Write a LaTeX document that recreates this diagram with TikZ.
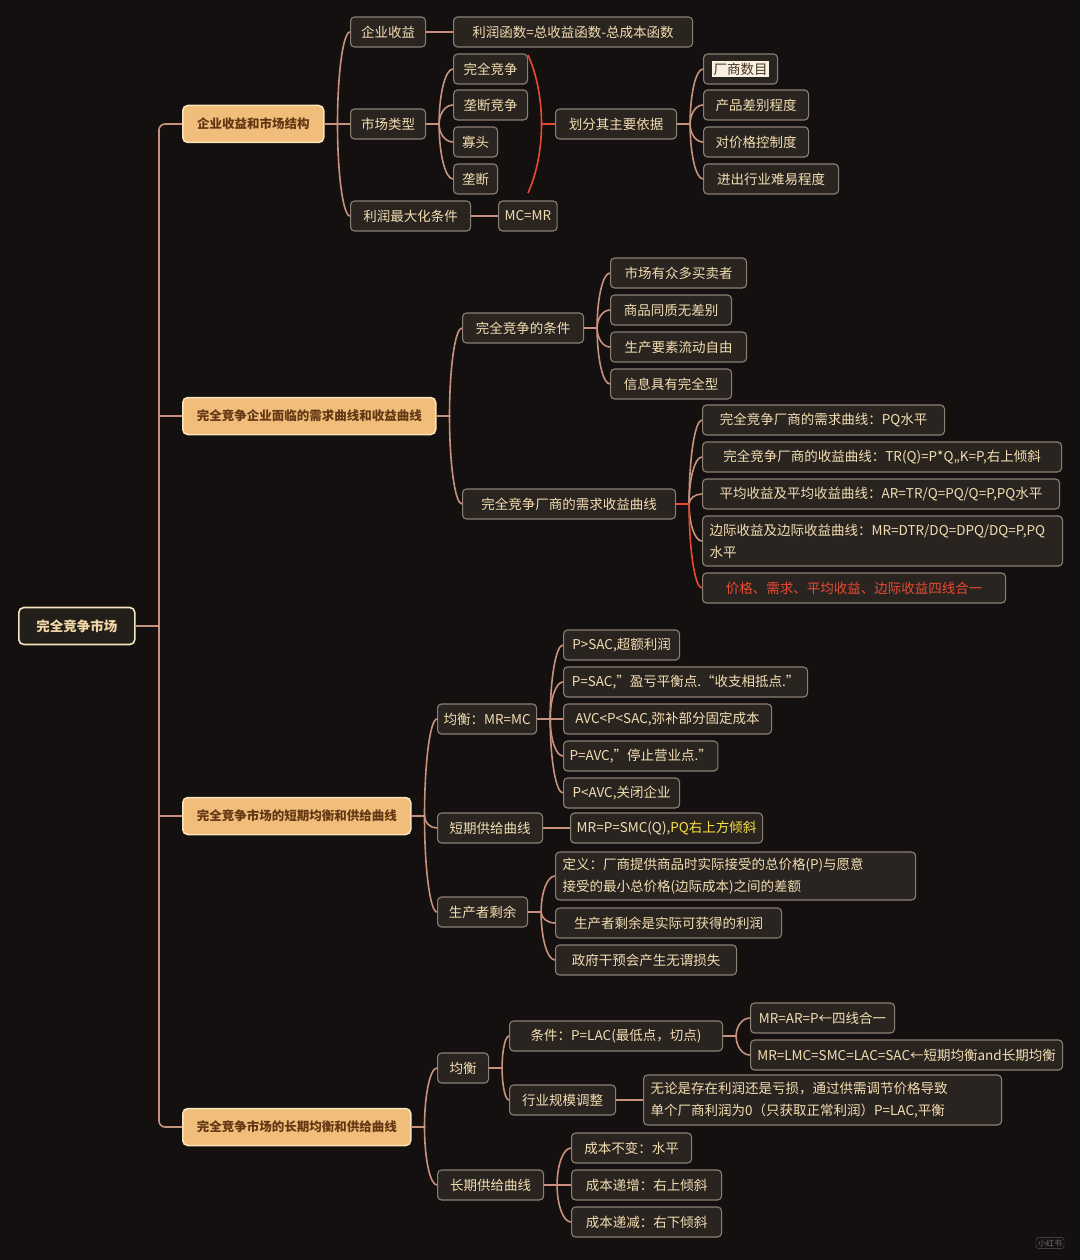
\documentclass[tikz,border=0pt]{standalone}
\usepackage{fontspec}
\usetikzlibrary{calc}
\setmainfont{Noto Sans CJK SC}
\definecolor{bgc}{RGB}{20,16,15}
\definecolor{leaffill}{RGB}{42,36,32}
\definecolor{leafborder}{RGB}{140,128,115}
\definecolor{leaftext}{RGB}{243,222,178}
\definecolor{lonefill}{RGB}{240,190,122}
\definecolor{loneborder}{RGB}{250,228,190}
\definecolor{lonetext}{RGB}{100,55,20}
\definecolor{rootfill}{RGB}{34,30,26}
\definecolor{rootborder}{RGB}{245,230,190}
\definecolor{roottext}{RGB}{240,215,165}
\definecolor{linec}{RGB}{200,145,125}
\definecolor{redc}{RGB}{230,75,50}
\definecolor{yelc}{RGB}{250,225,60}
\definecolor{hlc}{RGB}{248,240,225}
\definecolor{hltext}{RGB}{70,50,35}
\tikzset{
  leaf/.style={draw=leafborder, fill=leaffill, rounded corners=4pt, line width=1.1pt,
    text=leaftext, font=\fontsize{13.5}{22}\selectfont, anchor=west, minimum height=30pt,
    inner xsep=6pt, inner ysep=5pt, align=center},
  lone/.style={draw=loneborder, fill=lonefill, rounded corners=5pt, line width=1.5pt,
    text=lonetext, font=\bfseries\fontsize{12.5}{15}\selectfont, anchor=west,
    minimum height=37pt, align=center},
  rootn/.style={draw=rootborder, fill=rootfill, rounded corners=5pt, line width=1.6pt,
    text=roottext, font=\bfseries\fontsize{13.5}{16}\selectfont, anchor=west,
    minimum height=37pt, minimum width=116pt, align=center},
  conn/.style={draw=linec, line width=1.6pt},
  redconn/.style={draw=redc, line width=1.6pt}
}
\newcommand\leaf[6][]{\node[leaf,minimum width=#5pt,#1] (#2) at (#3,#4) {#6};}
\newcommand\br[3][]{\draw[conn,#1] (#2.east) -- ++(13,0) coordinate (bp)
  .. controls ($(bp)!0.55!(bp |- #3.west)$) and ($(#3.west)!0.55!(bp |- #3.west)$) .. (#3.west);}
\begin{document}
\begin{tikzpicture}[x=1pt,y=-1pt]
\fill[bgc] (0,0) rectangle (1080,1260);
\useasboundingbox (0,0) rectangle (1080,1260);

% root and level 1
\node[rootn] (root) at (18,626) {完全竞争市场};
\node[lone,minimum width=141pt] (La) at (182,124) {企业收益和市场结构};
\node[lone,minimum width=253pt] (Lb) at (182,416) {完全竞争企业面临的需求曲线和收益曲线};
\node[lone,minimum width=228pt] (Lc) at (182,816) {完全竞争市场的短期均衡和供给曲线};
\node[lone,minimum width=228pt] (Ld) at (182,1127) {完全竞争市场的长期均衡和供给曲线};
\coordinate (tr) at (159,0);

% branch A
\leaf{q1}{350}{32}{75}{企业收益}
\leaf{q2}{350}{124}{75}{市场类型}
\leaf{q3}{350}{216}{120}{利润最大化条件}
\leaf{q1a}{453}{32}{239}{利润函数=总收益函数-总成本函数}
\leaf{m1}{453}{69}{74}{完全竞争}
\leaf{m2}{453}{105}{74}{垄断竞争}
\leaf{m3}{453}{142}{44}{寡头}
\leaf{m4}{453}{179}{44}{垄断}
\leaf{mcmr}{498}{216}{53}{MC=MR}
\leaf{hf}{555}{124}{121}{划分其主要依据}
\leaf{h1}{703}{69}{74}{{\setlength\fboxsep{1.5pt}\colorbox{hlc}{\color{hltext}厂商数目}}}
\leaf{h2}{703}{105}{105}{产品差别程度}
\leaf{h3}{703}{142}{105}{对价格控制度}
\leaf{h4}{703}{179}{135}{进出行业难易程度}

% branch B
\leaf{c0}{462}{328}{121}{完全竞争的条件}
\leaf{c1}{610}{273}{136}{市场有众多买卖者}
\leaf{c2}{610}{310}{121}{商品同质无差别}
\leaf{c3}{610}{347}{136}{生产要素流动自由}
\leaf{c4}{610}{384}{121}{信息具有完全型}
\leaf{d0}{462}{504}{213}{完全竞争厂商的需求收益曲线}
\leaf{d1}{702}{420}{242}{完全竞争厂商的需求曲线：PQ水平}
\leaf{d2}{702}{457}{359}{完全竞争厂商的收益曲线：TR(Q)=P*Q,,K=P,右上倾斜}
\leaf{d3}{702}{494}{357}{平均收益及平均收益曲线：AR=TR/Q=PQ/Q=P,PQ水平}
\leaf[text width=346pt,align=left,minimum height=50pt]{d4}{702}{541}{360}{边际收益及边际收益曲线：MR=DTR/DQ=DPQ/DQ=P,PQ\\水平}
\leaf[text=redc]{d5}{702}{588}{303}{价格、需求、平均收益、边际收益四线合一}

% branch C
\leaf{e0}{437}{719}{99}{均衡：MR=MC}
\leaf{e1}{563}{645}{116}{P>SAC,超额利润}
\leaf{e2}{563}{682}{244}{P=SAC,"盈亏平衡点.“收支相抵点.”}
\leaf{e3}{563}{719}{208}{AVC<P<SAC,弥补部分固定成本}
\leaf{e4}{563}{756}{144}{P=AVC,"停止营业点."}
\leaf{e5}{563}{793}{116}{P<AVC,关闭企业}
\leaf{s0}{437}{828}{105}{短期供给曲线}
\leaf{s1}{570}{828}{192}{MR=P=SMC(Q),{\color{yelc}PQ右上方倾斜}}
\leaf{p0}{437}{912}{90}{生产者剩余}
\leaf[text width=346pt,align=left,minimum height=48pt]{p1}{555}{876}{360}{定义：厂商提供商品时实际接受的总价格(P)与愿意\\接受的最小总价格(边际成本)之间的差额}
\leaf{p2}{555}{923}{226}{生产者剩余是实际可获得的利润}
\leaf{p3}{555}{960}{181}{政府干预会产生无谓损失}

% branch D
\leaf{f0}{437}{1068}{51}{均衡}
\leaf{f1}{509}{1036}{213}{条件：P=LAC(最低点，切点)}
\leaf{f1a}{750}{1018}{144}{MR=AR=P←四线合一}
\leaf{f1b}{750}{1055}{312}{MR=LMC=SMC=LAC=SAC←短期均衡and长期均衡}
\leaf{f2}{509}{1100}{106}{行业规模调整}
\leaf[text width=344pt,align=left,minimum height=50pt]{f2a}{643}{1100}{358}{无论是存在利润还是亏损，通过供需调节价格导致\\单个厂商利润为0（只获取正常利润）P=LAC,平衡}
\leaf{g0}{437}{1185}{106}{长期供给曲线}
\leaf{g1}{571}{1148}{120}{成本不变：水平}
\leaf{g2}{571}{1185}{150}{成本递增：右上倾斜}
\leaf{g3}{571}{1222}{150}{成本递减：右下倾斜}

% trunk
\draw[conn,rounded corners=6pt] (La.west) -- (La.west -| tr) -- (Ld.west -| tr) -- (Ld.west);
\draw[conn] (root.east) -- (root.east -| tr);
\draw[conn] (Lb.west) -- (Lb.west -| tr);
\draw[conn] (Lc.west) -- (Lc.west -| tr);

% level 1 -> 2
\br{La}{q1}\br{La}{q2}\br{La}{q3}
\br{Lb}{c0}\br{Lb}{d0}
\br{Lc}{e0}\br{Lc}{s0}\br{Lc}{p0}
\br{Ld}{f0}\br{Ld}{g0}

% branch A connectors
\draw[conn] (q1.east) -- (q1a.west);
\br{q2}{m1}\br{q2}{m2}\br{q2}{m3}\br{q2}{m4}
\draw[conn] (q3.east) -- (mcmr.west);
\br{hf}{h1}\br{hf}{h2}\br{hf}{h3}\br{hf}{h4}
\coordinate (rbT) at (528,55);
\coordinate (rbB) at (528,193);
\coordinate (rbM) at (541,124);
\draw[redconn] (rbT) .. controls (546,95) and (546,153) .. (rbB);
\draw[redconn] (rbM) -- (hf.west);

% branch B connectors
\br{c0}{c1}\br{c0}{c2}\br{c0}{c3}\br{c0}{c4}
\br{d0}{d1}\br{d0}{d2}\br{d0}{d3}\br{d0}{d4}
\br[redconn]{d0}{d5}

% branch C connectors
\br{e0}{e1}\br{e0}{e2}\br{e0}{e3}\br{e0}{e4}\br{e0}{e5}
\draw[conn] (s0.east) -- (s1.west);
\br{p0}{p1}\br{p0}{p2}\br{p0}{p3}

% branch D connectors
\br{f0}{f1}\br{f0}{f2}
\br{f1}{f1a}\br{f1}{f1b}
\draw[conn] (f2.east) -- (f2a.west);
\br{g0}{g1}\br{g0}{g2}\br{g0}{g3}

% watermark
\node[draw=black!65, rounded corners=3pt, text=black!55, font=\fontsize{8}{9}\selectfont, inner sep=2pt] (wm) at (1050,1243) {小红书};
\end{tikzpicture}
\end{document}
